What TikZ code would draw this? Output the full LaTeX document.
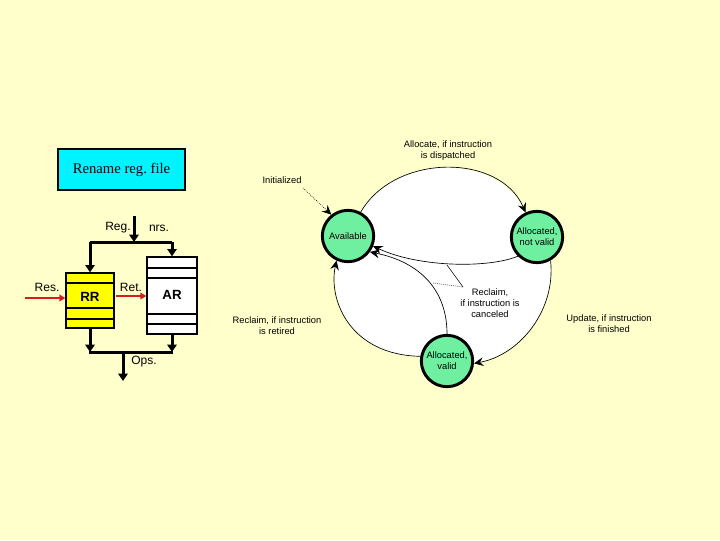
\documentclass[tikz,border=0pt]{standalone}
\usepackage{fontspec}
\setmainfont{Liberation Sans}
\newfontfamily\serifface{Liberation Serif}
\usetikzlibrary{arrows.meta,backgrounds}
\definecolor{bgy}{HTML}{FFFFCC}
\definecolor{stgreen}{HTML}{6FF0A0}
\definecolor{rfcyan}{HTML}{00F4FF}
\definecolor{rryellow}{HTML}{FFFF00}
\definecolor{arred}{HTML}{D41E1E}
\begin{document}
\begin{tikzpicture}[x=0.75pt,y=-0.75pt,
 state/.style={circle,draw,line width=2.2pt,fill=stgreen,minimum size=38.5pt,inner sep=0pt,align=center,font=\fontsize{7}{8.4}\selectfont},
 trans/.style={line width=0.5pt,-{Stealth[length=7pt,width=6.5pt,inset=2.5pt]}},
 lbl/.style={align=center,font=\fontsize{7}{8.4}\selectfont,inner sep=0pt},
 bus/.style={line width=2.25pt},
 busarr/.style={bus,-{Triangle[length=5.5pt,width=7pt]}},
 redarr/.style={draw=arred,line width=1.6pt,-{Triangle[length=4.5pt,width=5pt]}},
 regbox/.style={draw,line width=1pt,inner sep=0pt},
 plbl/.style={font=\fontsize{9}{10}\selectfont,inner sep=0pt},
 sep/.style={line width=0.8pt}
]
\useasboundingbox (0,0) rectangle (720,540);

% ---------- left: rename register file ----------
\node[draw,line width=1.5pt,fill=rfcyan,minimum width=95.25pt,minimum height=30.75pt,inner sep=0pt,font=\serifface\fontsize{11}{12}\selectfont] (rf) at (121.5,169.5) {Rename reg.\ file};

\node[regbox,fill=rryellow,minimum width=36pt,minimum height=41.25pt] (rr) at (90,300.5) {};
\node[regbox,fill=white,minimum width=37.5pt,minimum height=57.75pt] (ar) at (172,295.5) {};
\foreach \yy in {283,308,319} \draw[sep] (rr.west |- 0,\yy) -- (rr.east |- 0,\yy);
\foreach \yy in {268,278,314,324} \draw[sep] (ar.west |- 0,\yy) -- (ar.east |- 0,\yy);
\node[font=\bfseries\fontsize{10}{11}\selectfont,inner sep=0pt] (rrt) at (90,296.5) {RR};
\node[font=\bfseries\fontsize{10}{11}\selectfont,inner sep=0pt] (art) at (172,295) {AR};

\coordinate (regin) at (134,216);
\coordinate (regj) at (134,242);
\coordinate (rrj) at (90,242);
\coordinate (arj) at (172,242);
\draw[busarr] (regin) -- (regj);
\draw[bus] (rrj) -- (arj);
\draw[busarr] (rrj) -- (rr.north);
\draw[busarr] (arj) -- (ar.north);
\coordinate (rrb) at (90,352);
\coordinate (arb) at (172,352);
\coordinate (opsj) at (123,352);
\coordinate (opsout) at (123,381);
\draw[busarr] (rr.south) -- (rrb);
\draw[busarr] (ar.south) -- (arb);
\draw[bus] ([xshift=-0.8pt]rrb) -- ([xshift=0.8pt]arb);
\draw[busarr] (opsj) -- (opsout);

\coordinate (resin) at (25,298);
\draw[redarr] (resin) -- (rr.west |- resin);
\coordinate (retin) at (116,296);
\draw[redarr] (retin) -- (ar.west |- retin);

\node[plbl] (regl) at (118,228) {Reg.};
\node[plbl] (nrsl) at (159,228) {nrs.};
\node[plbl] (resl) at (47,287.5) {Res.};
\node[plbl] (retl) at (131,287.5) {Ret.};
\node[plbl] (opsl) at (144,362) {Ops.};

% ---------- right: state diagram ----------
\node[state] (av) at (348,236) {Available};
\node[state] (anv) at (537,237) {Allocated,\\not valid};
\node[state] (avd) at (447,361) {Allocated,\\valid};

\begin{scope}[on background layer]
\fill[bgy] (0,0) rectangle (720,540);
\fill[white] (av.62) .. controls (395,153) and (500,153) .. (anv.115) -- (anv.-60)
  .. controls (556,310) and (520,355) .. (avd.-5) -- (avd.170)
  .. controls (350,355) and (328,300) .. (av.-115) -- cycle;
\end{scope}

\draw[trans] (av.62) .. controls (395,153) and (500,153) .. (anv.115);
\draw[trans] (anv.225) .. controls (490,268) and (420,268) .. (av.-22);
\draw[trans] (avd.90) .. controls (447,290) and (420,262) .. (av.-36);
\draw[trans] (avd.170) .. controls (350,355) and (328,300) .. (av.-115);
\draw[trans] (anv.-60) .. controls (556,310) and (520,355) .. (avd.-5);

\coordinate (initfrom) at (303,188);
\draw[line width=0.5pt,densely dotted,-{Stealth[length=7pt,width=6.5pt,inset=2.5pt]}] (initfrom) -- (av.128);
\node[lbl] (initl) at (282,180.5) {Initialized};

\node[lbl] (alloc) at (448,150.5) {Allocate, if instruction\\is dispatched};
\node[lbl] (retired) at (277,325.5) {Reclaim, if instruction\\is retired};
\node[lbl] (finished) at (609,323.5) {Update, if instruction\\is finished};
\node[lbl] (cancel) at (490,303) {Reclaim,\\if instruction is\\canceled};

\coordinate (cp1) at (447,265);
\coordinate (cp2) at (433,283);
\coordinate (cptip) at (463,287);
\draw[line width=0.4pt] (cp1) -- (cptip);
\draw[line width=0.5pt,densely dotted] (cp2) -- (cptip);
\end{tikzpicture}
\end{document}
